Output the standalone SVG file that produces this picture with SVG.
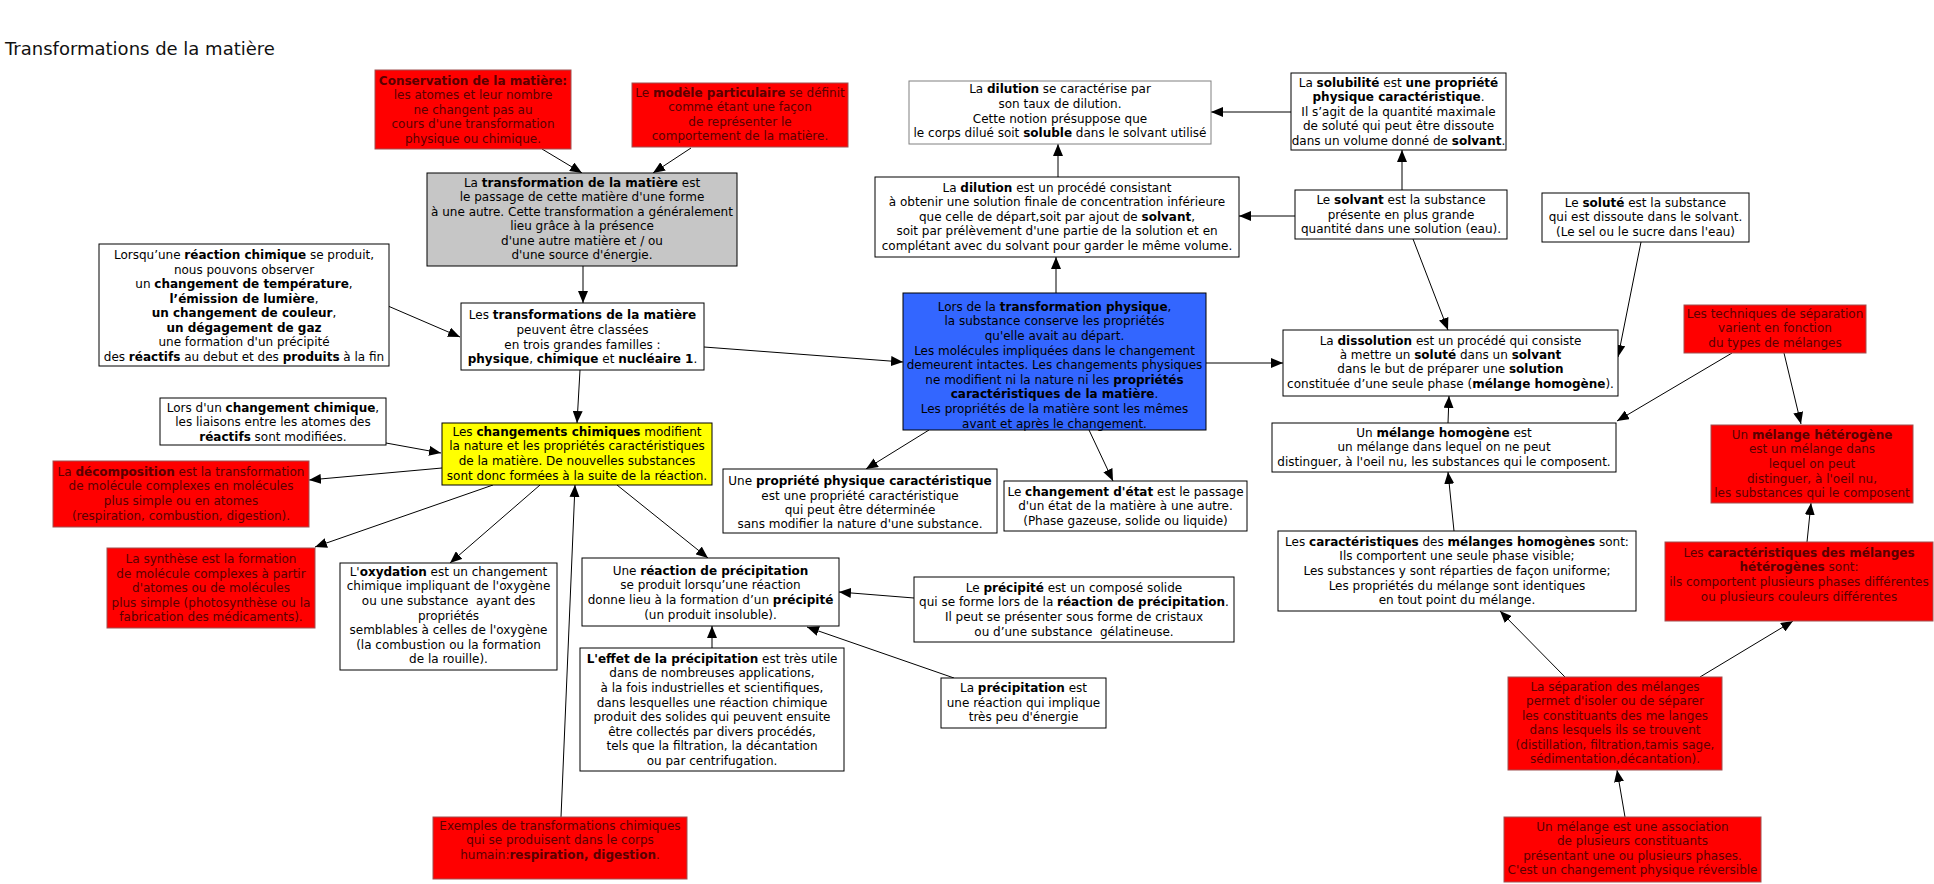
<svg xmlns="http://www.w3.org/2000/svg" width="1934" height="884" viewBox="0 0 1934 884">
<defs>
<marker id="ah" markerWidth="12" markerHeight="10" refX="12" refY="5" orient="auto" markerUnits="userSpaceOnUse"><path d="M0,0 L12,5 L0,10 z" fill="#000"/></marker>
<style>
text{font-family:"DejaVu Sans","Verdana",sans-serif;font-size:12px;text-anchor:middle;fill:#000;stroke:none}
.title{font-size:18px;text-anchor:start;fill:#111}
.b{font-weight:bold}
.w{fill:#fff;stroke:#000;stroke-width:1}
.rn rect{fill:#ff0000;stroke:#a05050;stroke-width:1}
.rn text{fill:#5a0000}
.gray{fill:#c6c6c6;stroke:#000;stroke-width:1}
.yel{fill:#ffff00;stroke:#000;stroke-width:1}
.blue{fill:#3366ff;stroke:#000;stroke-width:1}
.wg{fill:#fff;stroke:#808080;stroke-width:1}
#connectors line{stroke:#000;stroke-width:1;marker-end:url(#ah)}
</style>
</defs>
<rect width="1934" height="884" fill="#fff"/>
<text class="title" x="5" y="55">Transformations de la matière</text>

<g id="connectors">
<line x1="542" y1="149" x2="582" y2="173"/>
<line x1="691" y1="148" x2="653" y2="173"/>
<line x1="583" y1="266" x2="583" y2="303"/>
<line x1="388" y1="306" x2="460" y2="337"/>
<line x1="704" y1="347" x2="903" y2="362"/>
<line x1="580" y1="370" x2="577" y2="423"/>
<line x1="386" y1="443" x2="441" y2="453"/>
<line x1="442" y1="468" x2="309" y2="480"/>
<line x1="493" y1="485" x2="315" y2="547"/>
<line x1="540" y1="485" x2="450" y2="563"/>
<line x1="617" y1="485" x2="708" y2="558"/>
<line x1="561" y1="817" x2="575" y2="485"/>
<line x1="712" y1="648" x2="712" y2="626"/>
<line x1="914" y1="598" x2="839" y2="592"/>
<line x1="954" y1="678" x2="807" y2="627"/>
<line x1="929" y1="430" x2="866" y2="469"/>
<line x1="1089" y1="430" x2="1113" y2="481"/>
<line x1="1056" y1="293" x2="1056" y2="257"/>
<line x1="1058" y1="177" x2="1058" y2="144"/>
<line x1="1291" y1="112" x2="1211" y2="112"/>
<line x1="1295" y1="216" x2="1239" y2="216"/>
<line x1="1402" y1="190" x2="1402" y2="150"/>
<line x1="1413" y1="239" x2="1448" y2="330"/>
<line x1="1641" y1="242" x2="1618" y2="357"/>
<line x1="1206" y1="363" x2="1283" y2="363"/>
<line x1="1448" y1="423" x2="1449" y2="396"/>
<line x1="1732" y1="353" x2="1617" y2="421"/>
<line x1="1784" y1="353" x2="1801" y2="424"/>
<line x1="1454" y1="531" x2="1448" y2="472"/>
<line x1="1807" y1="542" x2="1811" y2="503"/>
<line x1="1565" y1="677" x2="1500" y2="611"/>
<line x1="1700" y1="677" x2="1793" y2="621"/>
<line x1="1625" y1="817" x2="1617" y2="770"/>
</g>

<g id="conservation" class="rn">
<rect x="375" y="70" width="196" height="79"/>
<text x="473" y="84.7"><tspan class="b">Conservation de la matière:</tspan></text>
<text x="473" y="99">les atomes et leur nombre</text>
<text x="473" y="114">ne changent pas au</text>
<text x="473" y="128.3">cours d'une transformation</text>
<text x="473" y="143">physique ou chimique.</text>
</g>

<g id="modele" class="rn">
<rect x="632" y="83" width="216" height="64"/>
<text x="740" y="96.7">Le <tspan class="b">modèle particulaire</tspan> se définit</text>
<text x="740" y="111">comme étant une façon</text>
<text x="740" y="125.7">de représenter le</text>
<text x="740" y="140.3">comportement de la matière.</text>
</g>

<g id="transformation">
<rect class="gray" x="427" y="173" width="310" height="93"/>
<text x="582" y="186.7">La <tspan class="b">transformation de la matière</tspan> est</text>
<text x="582" y="201.3">le passage de cette matière d'une forme</text>
<text x="582" y="215.7">à une autre. Cette transformation a généralement</text>
<text x="582" y="230.3">lieu grâce à la présence</text>
<text x="582" y="244.7">d'une autre matière et / ou</text>
<text x="582" y="259.3">d'une source d'énergie.</text>
</g>

<g id="reaction-chimique">
<rect class="w" x="99" y="244" width="290" height="122"/>
<text x="244" y="259">Lorsqu’une <tspan class="b">réaction chimique</tspan> se produit,</text>
<text x="244" y="273.5">nous pouvons observer</text>
<text x="244" y="288">un <tspan class="b">changement de température</tspan>,</text>
<text x="244" y="302.5"><tspan class="b">l’émission de lumière</tspan>,</text>
<text x="244" y="317"><tspan class="b">un changement de couleur</tspan>,</text>
<text x="244" y="331.5"><tspan class="b">un dégagement de gaz</tspan></text>
<text x="244" y="346">une formation d'un précipité</text>
<text x="244" y="360.5">des <tspan class="b">réactifs</tspan> au debut et des <tspan class="b">produits</tspan> à la fin</text>
</g>

<g id="familles">
<rect class="w" x="461" y="303" width="243" height="67"/>
<text x="582.5" y="319.3">Les <tspan class="b">transformations de la matière</tspan></text>
<text x="582.5" y="334">peuvent être classées</text>
<text x="582.5" y="348.7">en trois grandes familles :</text>
<text x="582.5" y="363.3"><tspan class="b">physique</tspan>, <tspan class="b">chimique</tspan> et <tspan class="b">nucléaire 1</tspan>.</text>
</g>

<g id="changement-chimique-liaisons">
<rect class="w" x="160" y="398" width="226" height="47"/>
<text x="273" y="411.7">Lors d'un <tspan class="b">changement chimique</tspan>,</text>
<text x="273" y="426.3">les liaisons entre les atomes des</text>
<text x="273" y="441"><tspan class="b">réactifs</tspan> sont modifiées.</text>
</g>

<g id="changements-chimiques">
<rect class="yel" x="442" y="423" width="270" height="62"/>
<text x="577" y="435.7">Les <tspan class="b">changements chimiques</tspan> modifient</text>
<text x="577" y="450.3">la nature et les propriétés caractéristiques</text>
<text x="577" y="465">de la matière. De nouvelles substances</text>
<text x="577" y="479.7">sont donc formées à la suite de la réaction.</text>
</g>

<g id="decomposition" class="rn">
<rect x="53" y="461" width="256" height="66"/>
<text x="181" y="475.7">La <tspan class="b">décomposition</tspan> est la transformation</text>
<text x="181" y="490.3">de molécule complexes en molécules</text>
<text x="181" y="505">plus simple ou en atomes</text>
<text x="181" y="519.7">(respiration, combustion, digestion).</text>
</g>

<g id="synthese" class="rn">
<rect x="107" y="548" width="208" height="80"/>
<text x="211" y="563">La synthèse est la formation</text>
<text x="211" y="577.6">de molécule complexes à partir</text>
<text x="211" y="592.2">d'atomes ou de molécules</text>
<text x="211" y="606.8">plus simple (photosynthèse ou la</text>
<text x="211" y="621.4">fabrication des médicaments).</text>
</g>

<g id="oxydation">
<rect class="w" x="340" y="563" width="217" height="107"/>
<text x="448.5" y="575.7">L'<tspan class="b">oxydation</tspan> est un changement</text>
<text x="448.5" y="590.3">chimique impliquant de l'oxygène</text>
<text x="448.5" y="604.9">ou une substance&#160; ayant des</text>
<text x="448.5" y="619.5">propriétés</text>
<text x="448.5" y="634.1">semblables à celles de l'oxygène</text>
<text x="448.5" y="648.7">(la combustion ou la formation</text>
<text x="448.5" y="663.3">de la rouille).</text>
</g>

<g id="reaction-precipitation">
<rect class="w" x="582" y="558" width="257" height="68"/>
<text x="710.5" y="574.7">Une <tspan class="b">réaction de précipitation</tspan></text>
<text x="710.5" y="589.3">se produit lorsqu’une réaction</text>
<text x="710.5" y="604">donne lieu à la formation d’un <tspan class="b">précipité</tspan></text>
<text x="710.5" y="618.6">(un produit insoluble).</text>
</g>

<g id="effet-precipitation">
<rect class="w" x="580" y="648" width="264" height="123"/>
<text x="712" y="662.7"><tspan class="b">L'effet de la précipitation</tspan> est très utile</text>
<text x="712" y="677.3">dans de nombreuses applications,</text>
<text x="712" y="691.9">à la fois industrielles et scientifiques,</text>
<text x="712" y="706.5">dans lesquelles une réaction chimique</text>
<text x="712" y="721.1">produit des solides qui peuvent ensuite</text>
<text x="712" y="735.7">être collectés par divers procédés,</text>
<text x="712" y="750.3">tels que la filtration, la décantation</text>
<text x="712" y="764.9">ou par centrifugation.</text>
</g>

<g id="exemples" class="rn">
<rect x="433" y="817" width="254" height="62"/>
<text x="560" y="829.7">Exemples de transformations chimiques</text>
<text x="560" y="844.3">qui se produisent dans le corps</text>
<text x="560" y="858.9">humain:<tspan class="b">respiration, digestion</tspan>.</text>
</g>

<g id="transformation-physique">
<rect class="blue" x="903" y="293" width="303" height="137"/>
<text x="1054.5" y="310.7">Lors de la <tspan class="b">transformation physique</tspan>,</text>
<text x="1054.5" y="325.3">la substance conserve les propriétés</text>
<text x="1054.5" y="339.9">qu'elle avait au départ.</text>
<text x="1054.5" y="354.5">Les molécules impliquées dans le changement</text>
<text x="1054.5" y="369.1">demeurent intactes. Les changements physiques</text>
<text x="1054.5" y="383.7">ne modifient ni la nature ni les <tspan class="b">propriétés</tspan></text>
<text x="1054.5" y="398.3"><tspan class="b">caractéristiques de la matière</tspan>.</text>
<text x="1054.5" y="412.9">Les propriétés de la matière sont les mêmes</text>
<text x="1054.5" y="427.5">avant et après le changement.</text>
</g>

<g id="dilution-taux">
<rect class="wg" x="909" y="81" width="302" height="63"/>
<text x="1060" y="93.3">La <tspan class="b">dilution</tspan> se caractérise par</text>
<text x="1060" y="108">son taux de dilution.</text>
<text x="1060" y="122.7">Cette notion présuppose que</text>
<text x="1060" y="137.3">le corps dilué soit <tspan class="b">soluble</tspan> dans le solvant utilisé</text>
</g>

<g id="dilution">
<rect class="w" x="875" y="177" width="364" height="80"/>
<text x="1057" y="191.7">La <tspan class="b">dilution</tspan> est un procédé consistant</text>
<text x="1057" y="206">à obtenir une solution finale de concentration inférieure</text>
<text x="1057" y="220.7">que celle de départ,soit par ajout de <tspan class="b">solvant</tspan>,</text>
<text x="1057" y="235.3">soit par prélèvement d'une partie de la solution et en</text>
<text x="1057" y="249.7">complétant avec du solvant pour garder le même volume.</text>
</g>

<g id="solubilite">
<rect class="w" x="1291" y="73" width="215" height="77"/>
<text x="1398.5" y="86.7">La <tspan class="b">solubilité</tspan> est <tspan class="b">une propriété</tspan></text>
<text x="1398.5" y="101.3"><tspan class="b">physique caractéristique</tspan>.</text>
<text x="1398.5" y="115.7">Il s’agit de la quantité maximale</text>
<text x="1398.5" y="130.3">de soluté qui peut être dissoute</text>
<text x="1398.5" y="144.7">dans un volume donné de <tspan class="b">solvant</tspan>.</text>
</g>

<g id="solvant">
<rect class="w" x="1295" y="190" width="212" height="49"/>
<text x="1401" y="204">Le <tspan class="b">solvant</tspan> est la substance</text>
<text x="1401" y="218.7">présente en plus grande</text>
<text x="1401" y="233">quantité dans une solution (eau).</text>
</g>

<g id="solute">
<rect class="w" x="1542" y="193" width="207" height="49"/>
<text x="1645.5" y="206.7">Le <tspan class="b">soluté</tspan> est la substance</text>
<text x="1645.5" y="221.3">qui est dissoute dans le solvant.</text>
<text x="1645.5" y="235.7">(Le sel ou le sucre dans l'eau)</text>
</g>

<g id="dissolution">
<rect class="w" x="1283" y="330" width="335" height="66"/>
<text x="1450.5" y="344.7">La <tspan class="b">dissolution</tspan> est un procédé qui consiste</text>
<text x="1450.5" y="359">à mettre un <tspan class="b">soluté</tspan> dans un <tspan class="b">solvant</tspan></text>
<text x="1450.5" y="373.3">dans le but de préparer une <tspan class="b">solution</tspan></text>
<text x="1450.5" y="388">constituée d’une seule phase (<tspan class="b">mélange homogène</tspan>).</text>
</g>

<g id="techniques" class="rn">
<rect x="1684" y="305" width="182" height="48"/>
<text x="1775" y="318">Les techniques de séparation</text>
<text x="1775" y="332.3">varient en fonction</text>
<text x="1775" y="346.7">du types de mélanges</text>
</g>

<g id="melange-homogene">
<rect class="w" x="1272" y="423" width="344" height="49"/>
<text x="1444" y="436.7">Un <tspan class="b">mélange homogène</tspan> est</text>
<text x="1444" y="451.3">un mélange dans lequel on ne peut</text>
<text x="1444" y="466">distinguer, à l'oeil nu, les substances qui le composent.</text>
</g>

<g id="melange-heterogene" class="rn">
<rect x="1711" y="425" width="202" height="78"/>
<text x="1812" y="438.7">Un <tspan class="b">mélange hétérogène</tspan></text>
<text x="1812" y="453.3">est un mélange dans</text>
<text x="1812" y="468">lequel on peut</text>
<text x="1812" y="482.7">distinguer, à l'oeil nu,</text>
<text x="1812" y="497">les substances qui le composent</text>
</g>

<g id="caracteristiques-homogenes">
<rect class="w" x="1278" y="531" width="358" height="80"/>
<text x="1457" y="545.7">Les <tspan class="b">caractéristiques</tspan> des <tspan class="b">mélanges homogènes</tspan> sont:</text>
<text x="1457" y="560.3">Ils comportent une seule phase visible;</text>
<text x="1457" y="575">Les substances y sont réparties de façon uniforme;</text>
<text x="1457" y="589.7">Les propriétés du mélange sont identiques</text>
<text x="1457" y="604.3">en tout point du mélange.</text>
</g>

<g id="caracteristiques-heterogenes" class="rn">
<rect x="1665" y="542" width="268" height="79"/>
<text x="1799" y="556.7">Les <tspan class="b">caractéristiques des mélanges</tspan></text>
<text x="1799" y="571.3"><tspan class="b">hétérogènes</tspan> sont:</text>
<text x="1799" y="586">ils comportent plusieurs phases différentes</text>
<text x="1799" y="600.7">ou plusieurs couleurs différentes</text>
</g>

<g id="separation" class="rn">
<rect x="1508" y="677" width="214" height="93"/>
<text x="1615" y="690.7">La séparation des mélanges</text>
<text x="1615" y="705">permet d'isoler ou de séparer</text>
<text x="1615" y="719.7">les constituants des me langes</text>
<text x="1615" y="734.3">dans lesquels ils se trouvent</text>
<text x="1615" y="749">(distillation, filtration,tamis sage,</text>
<text x="1615" y="763.3">sédimentation,décantation).</text>
</g>

<g id="melange" class="rn">
<rect x="1504" y="817" width="257" height="65"/>
<text x="1632.5" y="830.7">Un mélange est une association</text>
<text x="1632.5" y="845">de plusieurs constituants</text>
<text x="1632.5" y="859.7">présentant une ou plusieurs phases.</text>
<text x="1632.5" y="874.3">C'est un changement physique réversible</text>
</g>

<g id="propriete-physique">
<rect class="w" x="723" y="469" width="274" height="64"/>
<text x="860" y="485">Une <tspan class="b">propriété physique caractéristique</tspan></text>
<text x="860" y="499.7">est une propriété caractéristique</text>
<text x="860" y="514">qui peut être déterminée</text>
<text x="860" y="528.3">sans modifier la nature d'une substance.</text>
</g>

<g id="changement-etat">
<rect class="w" x="1004" y="481" width="243" height="50"/>
<text x="1125.5" y="495.7">Le <tspan class="b">changement d'état</tspan> est le passage</text>
<text x="1125.5" y="510">d'un état de la matière à une autre.</text>
<text x="1125.5" y="524.7">(Phase gazeuse, solide ou liquide)</text>
</g>

<g id="precipite">
<rect class="w" x="914" y="577" width="320" height="65"/>
<text x="1074" y="591.7">Le <tspan class="b">précipité</tspan> est un composé solide</text>
<text x="1074" y="606.3">qui se forme lors de la <tspan class="b">réaction de précipitation</tspan>.</text>
<text x="1074" y="621">Il peut se présenter sous forme de cristaux</text>
<text x="1074" y="635.7">ou d’une substance&#160; gélatineuse.</text>
</g>

<g id="precipitation">
<rect class="w" x="941" y="678" width="165" height="50"/>
<text x="1023.5" y="692.3">La <tspan class="b">précipitation</tspan> est</text>
<text x="1023.5" y="707">une réaction qui implique</text>
<text x="1023.5" y="721.3">très peu d'énergie</text>
</g>
</svg>
